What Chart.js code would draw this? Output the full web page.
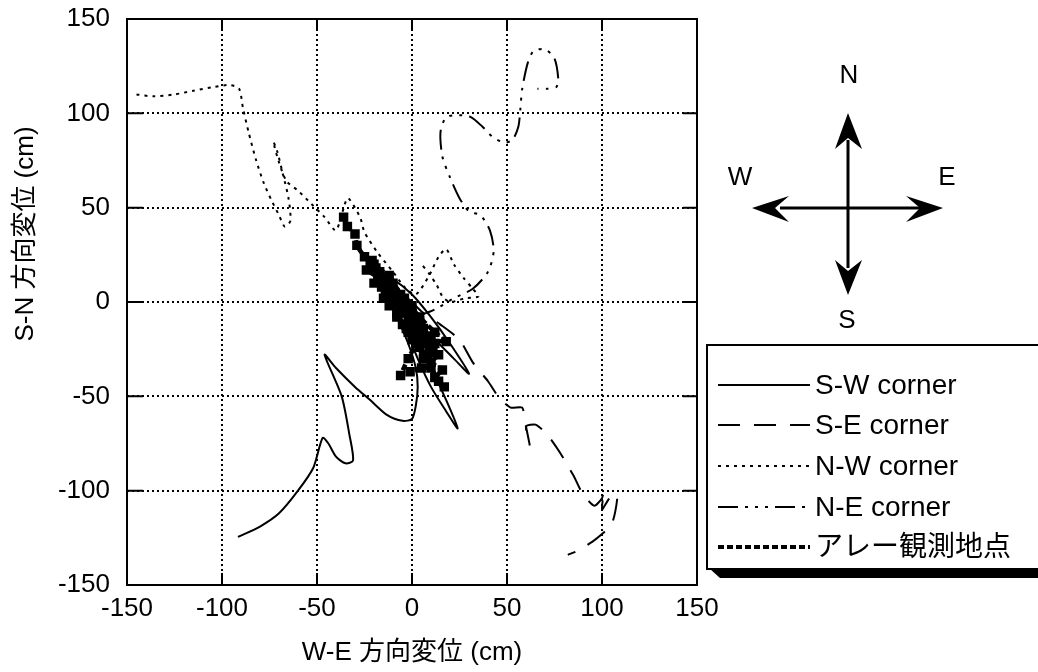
<!DOCTYPE html>
<html>
<head>
<meta charset="utf-8">
<title>W-E / S-N 方向変位</title>
<script src="https://cdn.jsdelivr.net/npm/chart.js@4.4.1/dist/chart.umd.min.js"></script>
<style>
  html, body { margin: 0; padding: 0; background: #fff; }
  #wrap { width: 1038px; height: 672px; }
</style>
</head>
<body>
<div id="wrap"><canvas id="chart" width="1038" height="672"></canvas></div>
<script>
// axis ticks (cm)
const xTicks = [-150, -100, -50, 0, 50, 100, 150];
const yTicks = [-150, -100, -50, 0, 50, 100, 150];

const seriesNames = ['S-W corner', 'S-E corner', 'N-W corner', 'N-E corner', 'アレー観測地点'];

// displacement paths [W-E, S-N] in cm
const swCorner = [
  [-91.6, -124.5], [-80, -119], [-70, -112], [-60, -100], [-52, -88], [-47, -72],
  [-44, -75], [-40, -82], [-35, -85.5], [-31, -84], [-33, -70], [-37, -50], [-46, -28],
  [-40, -35], [-30, -45], [-22, -52], [-13, -60], [-5, -63], [0, -62], [2, -55],
  [3, -45], [2, -35], [-2, -22], [-8, -8], [-15, 5], [-18, 15], [-10, 12], [0, 4],
  [10, -8], [20, -22], [30, -38], [22, -30], [12, -20], [2, -12], [-4, -6], [2, -20],
  [10, -35], [18, -52], [24, -67], [18, -58], [10, -45], [3, -30], [-3, -15],
  [-10, 0], [-16, 10], [-20, 18]
];
const seCorner = [
  [-15, 15], [-5, 5], [5, -5], [15, -12], [25, -20], [32, -32], [40, -42], [46, -51],
  [52, -56], [58, -56], [60, -66], [62, -76], [60, -66], [65, -65], [71, -70], [78, -80],
  [85, -92], [90, -102], [96, -108], [100, -104], [101, -100], [100, -110], [104, -104],
  [108, -102], [107, -111], [105, -118], [100, -123], [95, -127], [87, -132], [82, -134]
];
const nwCorner = [
  [-145, 110], [-136, 109], [-125, 110], [-115, 112], [-104, 114], [-96, 115], [-91, 113],
  [-89, 103], [-86, 90], [-82, 75], [-78, 63], [-74, 54], [-70, 46], [-67, 40], [-64, 43],
  [-65, 55], [-68, 68], [-71, 80], [-73, 85], [-70, 74], [-66, 64], [-60, 59], [-53, 52],
  [-46, 45], [-40, 38], [-34, 55], [-30, 50], [-27, 44], [-25, 37], [-18, 26], [-10, 16],
  [-4, 8], [2, 4], [9, 14], [14, 24], [18, 28], [22, 20], [27, 13], [32, 7], [35, 3],
  [28, 2], [20, 0], [16, 3], [13, 9], [9, 15], [5, 20]
];
const neCorner = [
  [2, -8], [12, -4], [22, 2], [32, 7], [40, 16], [43, 27], [41, 38], [36, 46], [30, 48],
  [25, 55], [20, 66], [16, 77], [15, 90], [18, 98], [25, 99], [31, 98], [37, 93], [43, 87],
  [49, 84.5], [53, 86], [56, 93], [57, 102], [58, 113], [61, 127], [64, 133], [70, 134],
  [75, 129], [77, 118], [76, 114], [71, 113], [66, 113]
];
const arraySite = [
  [-36, 45], [-34, 40], [-30, 36], [-29, 30], [-25, 24], [-20, 20], [-24, 17], [-16, 12],
  [-20, 10], [-12, 6], [-15, 2], [-8, 0], [-12, -2], [-4, -5], [-8, -8], [0, -6], [-5, -12],
  [3, -10], [-2, -16], [6, -14], [0, -20], [8, -18], [4, -24], [12, -22], [8, -28], [14, -28],
  [10, -32], [16, -36], [12, -40], [17, -45], [14, -42], [10, -35], [5, -35], [-1, -37],
  [-6, -39], [-2, -30], [2, -22], [-3, -14], [-8, -6], [-14, 4], [-18, 14], [-22, 20],
  [-14, 8], [-6, -2], [2, -12], [10, -20], [18, -21], [12, -16], [4, -8], [-4, 2], [-10, 10],
  [-17, 16], [-21, 22], [-13, 12], [-9, 4], [-3, -3], [1, -9], [5, -16], [9, -24],
  [6, -22], [0, -13], [-5, -5], [-11, 3], [-16, 8], [-19, 18], [-12, 14], [-6, 4], [0, -2],
  [4, -10], [7, -20], [11, -26], [6, -30], [2, -18], [-2, -8]
];

const FONT = '"Liberation Sans", Arial, "Noto Sans CJK JP", sans-serif';

function toPoints(arr) {
  return arr.map(p => ({ x: p[0], y: p[1] }));
}

function lineSet(label, pts, dash, width, tension) {
  return {
    label: label,
    data: toPoints(pts),
    showLine: true,
    borderColor: '#000',
    backgroundColor: '#000',
    borderWidth: width,
    borderDash: dash,
    pointRadius: 0,
    tension: tension
  };
}

const datasets = [
  lineSet(seriesNames[0], swCorner, [], 2, 0.25),
  lineSet(seriesNames[1], seCorner, [22, 14], 2, 0.2),
  lineSet(seriesNames[2], nwCorner, [3, 5], 2, 0.25),
  lineSet(seriesNames[3], neCorner, [20, 7, 3, 7, 3, 7, 3, 7], 2, 0.25),
  Object.assign(lineSet(seriesNames[4], arraySite, [6, 3], 4.5, 0.1), {
    pointRadius: 3.5, pointStyle: 'rect'
  })
];

// short solid ticks on the inside of all four frame edges
const innerTicks = {
  id: 'innerTicks',
  afterDatasetsDraw(chart) {
    const { ctx, chartArea: a, scales: { x, y } } = chart;
    ctx.save();
    ctx.strokeStyle = '#000';
    ctx.lineWidth = 2;
    ctx.setLineDash([]);
    ctx.beginPath();
    xTicks.forEach(v => {
      const px = x.getPixelForValue(v);
      ctx.moveTo(px, a.bottom); ctx.lineTo(px, a.bottom - 12);
      ctx.moveTo(px, a.top); ctx.lineTo(px, a.top + 12);
    });
    yTicks.forEach(v => {
      const py = y.getPixelForValue(v);
      ctx.moveTo(a.left, py); ctx.lineTo(a.left + 16, py);
      ctx.moveTo(a.right, py); ctx.lineTo(a.right - 14, py);
    });
    ctx.stroke();
    ctx.lineWidth = 2;
    ctx.strokeRect(a.left, a.top, a.right - a.left, a.bottom - a.top);
    ctx.restore();
  }
};

// rotated y title, compass and boxed legend
const extras = {
  id: 'extras',
  afterDraw(chart) {
    const ctx = chart.ctx;
    ctx.save();
    ctx.fillStyle = '#000';
    ctx.strokeStyle = '#000';
    ctx.textAlign = 'center';
    ctx.textBaseline = 'middle';

    // y title
    ctx.save();
    ctx.translate(26, 234);
    ctx.rotate(-Math.PI / 2);
    ctx.font = '26px ' + FONT;
    ctx.fillText('S-N 方向変位 (cm)', 0, 0);
    ctx.restore();

    // compass
    const cx = 848, cy = 208;
    ctx.lineWidth = 3;
    ctx.beginPath();
    ctx.moveTo(cx, 140); ctx.lineTo(cx, 268);
    ctx.moveTo(780, cy); ctx.lineTo(922, cy);
    ctx.stroke();
    function head(tip, c1, notch, c2) {
      ctx.beginPath();
      ctx.moveTo(tip[0], tip[1]);
      ctx.lineTo(c1[0], c1[1]);
      ctx.lineTo(notch[0], notch[1]);
      ctx.lineTo(c2[0], c2[1]);
      ctx.closePath();
      ctx.fill();
    }
    head([cx, 113], [835, 149], [cx, 138], [862, 149]);
    head([cx, 295], [835, 260], [cx, 271], [862, 260]);
    head([943, cy], [906, 196], [920, cy], [906, 222]);
    head([752, cy], [789, 196], [775, cy], [789, 222]);
    ctx.font = '26px ' + FONT;
    ctx.fillText('N', 849, 76);
    ctx.fillText('S', 847, 321);
    ctx.fillText('W', 740, 178);
    ctx.fillText('E', 947, 178);

    // legend box with a heavy bottom shadow
    ctx.lineWidth = 2;
    ctx.strokeRect(707, 345, 360, 224);
    ctx.beginPath();
    ctx.moveTo(710, 569); ctx.lineTo(1038, 569); ctx.lineTo(1038, 578); ctx.lineTo(720, 578);
    ctx.closePath();
    ctx.fill();

    const rows = [385, 425, 466, 507, 547];
    ctx.textAlign = 'left';
    ctx.font = '28px ' + FONT;
    chart.data.datasets.forEach((ds, i) => {
      const ry = rows[i];
      ctx.save();
      ctx.lineWidth = Math.min(ds.borderWidth, 4);
      ctx.setLineDash(ds.borderDash || []);
      ctx.beginPath();
      ctx.moveTo(718, ry); ctx.lineTo(810, ry);
      ctx.stroke();
      ctx.restore();
      ctx.fillText(ds.label, 815, ry + 1);
    });
    ctx.restore();
  }
};

const chart = new Chart(document.getElementById('chart'), {
  type: 'scatter',
  data: { datasets: datasets },
  options: {
    responsive: false,
    animation: false,
    layout: { padding: { top: 19, right: 341, left: 0, bottom: 0 } },
    plugins: {
      legend: { display: false },
      tooltip: { enabled: false }
    },
    scales: {
      x: {
        type: 'linear',
        min: -150, max: 150,
        afterBuildTicks: s => { s.ticks = xTicks.map(v => ({ value: v })); },
        afterFit: s => { s.height = 87; },
        grid: { color: '#000', lineWidth: 2, drawTicks: false },
        border: { display: false, dash: [2, 3] },
        ticks: { color: '#000', padding: 8, font: { family: FONT, size: 26 } },
        title: {
          display: true, text: 'W-E 方向変位 (cm)', color: '#000',
          font: { family: FONT, size: 26 }, padding: { top: 0, bottom: 4 }
        }
      },
      y: {
        type: 'linear',
        min: -150, max: 150,
        afterBuildTicks: s => { s.ticks = yTicks.map(v => ({ value: v })); },
        afterFit: s => { s.width = 127; s.paddingTop = 0; s.paddingBottom = 0; },
        grid: { color: '#000', lineWidth: 2, drawTicks: false },
        border: { display: false, dash: [2, 3] },
        ticks: { color: '#000', padding: 17, font: { family: FONT, size: 26 } }
      }
    }
  },
  plugins: [innerTicks, extras]
});
</script>
</body>
</html>
